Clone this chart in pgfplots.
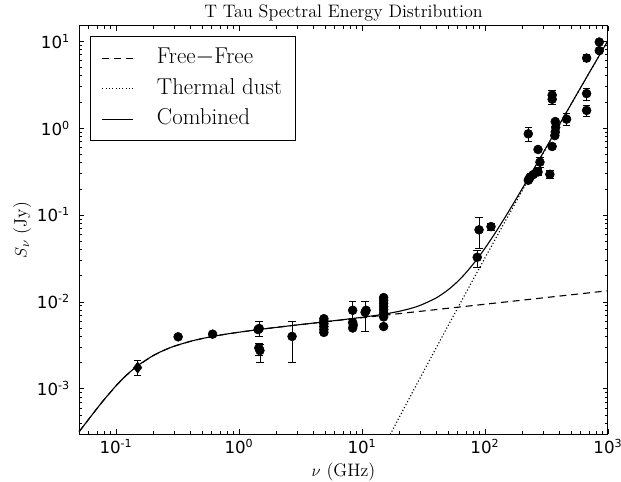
\documentclass[border=0pt]{standalone}
\usepackage{pgfplots}
\pgfplotsset{compat=1.18}
\usepackage{fontspec}
\newfontfamily\dejavu{DejaVu Sans}
\begin{document}
\begin{tikzpicture}
\begin{axis}[
  name=main,
  scale only axis, width=381pt, height=294pt,
  xmode=log, ymode=log,
  xmin=0.05, xmax=1000, ymin=3e-4, ymax=15,
  title={T Tau Spectral Energy Distribution},
  title style={font=\fontsize{13}{15}\selectfont, at={(axis description cs:0.5,1)}, anchor=center, yshift=3pt},
  xlabel={$\nu$ (GHz)}, ylabel={$S_\nu$ (Jy)},
  label style={font=\fontsize{13}{15}\selectfont},
  xlabel style={at={(axis description cs:0.5,0)}, anchor=center, yshift=-27pt},
  ylabel style={at={(axis description cs:0,0.5)}, anchor=center, yshift=41pt},
  tick label style={font=\dejavu\fontsize{12}{14}\selectfont},
  yticklabel style={xshift=-3pt},
  xtick={0.1,1,10,100,1000},
  xticklabels={10\textsuperscript{-1},10\textsuperscript{0},10\textsuperscript{1},10\textsuperscript{2},10\textsuperscript{3}},
  ytick={1e-3,1e-2,1e-1,1,10},
  yticklabels={10\textsuperscript{-3},10\textsuperscript{-2},10\textsuperscript{-1},10\textsuperscript{0},10\textsuperscript{1}},
  minor xtick={0.06,0.07,0.08,0.09,0.2,0.3,0.4,0.5,0.6,0.7,0.8,0.9,2,3,4,5,6,7,8,9,20,30,40,50,60,70,80,90,200,300,400,500,600,700,800,900},
  minor ytick={4e-4,5e-4,6e-4,7e-4,8e-4,9e-4,2e-3,3e-3,4e-3,5e-3,6e-3,7e-3,8e-3,9e-3,0.02,0.03,0.04,0.05,0.06,0.07,0.08,0.09,0.2,0.3,0.4,0.5,0.6,0.7,0.8,0.9,2,3,4,5,6,7,8,9},
  major tick length=3.5pt, minor tick length=2pt,
  every tick/.style={black, line width=0.5pt},
  axis line style={line width=0.7pt},
  legend image code/.code={\draw[#1] (0pt,0pt) -- (22pt,0pt);},
  legend cell align=left,
  legend style={at={(0.021,0.975)}, anchor=north west, draw=black, line width=0.7pt,
    font=\fontsize{16.5}{19}\selectfont, inner xsep=8pt, inner ysep=6pt,
    nodes={inner sep=2pt, text height=11.5pt, text depth=3.5pt},
    row sep=3pt,
    /tikz/every odd column/.append style={column sep=15pt}},
]
% Free-free
\addplot[black, line width=0.8pt, dash pattern=on 5pt off 3.5pt] coordinates {
(0.05,3.183e-4)(0.06,4.461e-4)(0.07,5.910e-4)(0.08,7.489e-4)(0.1,1.0816e-3)(0.12,1.408e-3)(0.15,1.8425e-3)(0.2,2.403e-3)(0.25,2.804e-3)(0.3,3.101e-3)(0.4,3.505e-3)(0.5,3.778e-3)(0.7,4.140e-3)(1,4.474e-3)(1.5,4.831e-3)(2,5.078e-3)(3,5.430e-3)(5,5.892e-3)(10,6.569e-3)(20,7.318e-3)(50,8.435e-3)(100,9.392e-3)(200,1.0457e-2)(500,1.2053e-2)(1000,1.342e-2)
};
\addlegendentry{Free$-$Free}
% Thermal dust
\addplot[black, line width=0.8pt, dash pattern=on 0.8pt off 1.6pt] coordinates {
(16,2.54e-4)(20,4.63e-4)(25,8.415e-4)(30,1.368e-3)(40,2.934e-3)(50,5.28e-3)(60,8.51e-3)(70,1.272e-2)(85,2.104e-2)(100,3.204e-2)(120,5.122e-2)(150,9.06e-2)(200,0.1883)(300,0.5225)(500,1.863)(700,4.262)(1000,10.16)
};
\addlegendentry{Thermal dust}
% Combined
\addplot[black, line width=0.8pt, smooth] coordinates {
(0.05,3.183e-4)(0.06,4.461e-4)(0.07,5.910e-4)(0.08,7.489e-4)(0.1,1.0816e-3)(0.12,1.408e-3)(0.15,1.8425e-3)(0.2,2.403e-3)(0.25,2.804e-3)(0.3,3.101e-3)(0.4,3.505e-3)(0.5,3.778e-3)(0.7,4.140e-3)(1,4.474e-3)(1.5,4.831e-3)(2,5.078e-3)(3,5.430e-3)(5,5.903e-3)(7,6.24e-3)(10,6.64e-3)(15,7.21e-3)(20,7.781e-3)(25,8.416e-3)(30,9.162e-3)(40,1.108e-2)(50,1.3715e-2)(60,1.719e-2)(70,2.161e-2)(85,3.02e-2)(100,4.143e-2)(120,6.088e-2)(150,0.1006)(200,0.1988)(300,0.5336)(500,1.875)(700,4.275)(1000,10.17)
};
\addlegendentry{Combined}
% Diamond point
\addplot[black, only marks, mark=diamond*, mark size=4pt, forget plot,
  error bars/.cd, y dir=both, y explicit, error bar style={line width=0.6pt},
  error mark options={rotate=90, black, mark size=2.7pt, line width=0.6pt}] coordinates {
(0.15,1.75e-3) += (0,0.35e-3) -= (0,0.33e-3)
};
% Circles with error bars
\addplot[black, only marks, mark=*, mark size=3.2pt, forget plot,
  error bars/.cd, y dir=both, y explicit, error bar style={line width=0.6pt},
  error mark options={rotate=90, black, mark size=2.7pt, line width=0.6pt}] coordinates {
(0.32,3.96e-3) += (0,0.2e-3) -= (0,0.2e-3)
(0.61,4.25e-3) += (0,0.15e-3) -= (0,0.15e-3)
(1.46,4.94e-3) += (0,1.0e-3) -= (0,0.9e-3)
(1.45,2.95e-3) += (0,0.35e-3) -= (0,0.5e-3)
(1.48,2.75e-3) += (0,0.5e-3) -= (0,0.75e-3)
(2.7,4.0e-3) += (0,1.9e-3) -= (0,2.0e-3)
(8.4,8.0e-3) += (0,2.0e-3) -= (0,1.6e-3)
(10.6,7.6e-3) += (0,2.4e-3) -= (0,3.0e-3)
(15,0.0112) += (0,0.0008) -= (0,0.0008)
(15,5.2e-3) += (0,0.4e-3) -= (0,0.4e-3)
(86.5,0.0326) += (0,0.006) -= (0,0.008)
(89.5,0.0675) += (0,0.027) -= (0,0.026)
(112,0.0735) += (0,0.007) -= (0,0.007)
(225,0.86) += (0,0.17) -= (0,0.15)
(247,0.292) += (0,0.02) -= (0,0.02)
(270,0.313) += (0,0.03) -= (0,0.03)
(280,0.406) += (0,0.05) -= (0,0.05)
(337,0.294) += (0,0.03) -= (0,0.03)
(352,2.4) += (0,0.3) -= (0,0.3)
(352,2.15) += (0,0.25) -= (0,0.25)
(461,1.27) += (0,0.2) -= (0,0.2)
(671,6.4) += (0,0.6) -= (0,0.6)
(671,2.5) += (0,0.4) -= (0,0.4)
(671,1.6) += (0,0.25) -= (0,0.25)
};
% Circles without error bars
\addplot[black, only marks, mark=*, mark size=3.2pt, forget plot] coordinates {
(1.43,4.8e-3)
(4.9,6.4e-3)(4.9,6.0e-3)(4.9,5.6e-3)(4.9,5.2e-3)(4.9,4.8e-3)(4.9,4.45e-3)
(8.4,5.8e-3)(8.5,5.4e-3)(8.4,5.0e-3)
(10.8,8.0e-3)
(15,0.0104)(15,0.0096)(15,0.0088)(15,0.0081)(15,0.0074)(15,0.0067)
(225,0.251)(229,0.262)(233,0.274)(270,0.568)
(352,0.615)(370,0.82)(373,0.9)(376,1.02)(373,1.19)
(850,9.8)(850,7.8)
};
\end{axis}
\pgfresetboundingbox
\path ([shift={(-56.9pt,-33.8pt)}]main.south west) rectangle ([shift={(9.4pt,18.7pt)}]main.north east);
\end{tikzpicture}
\end{document}
